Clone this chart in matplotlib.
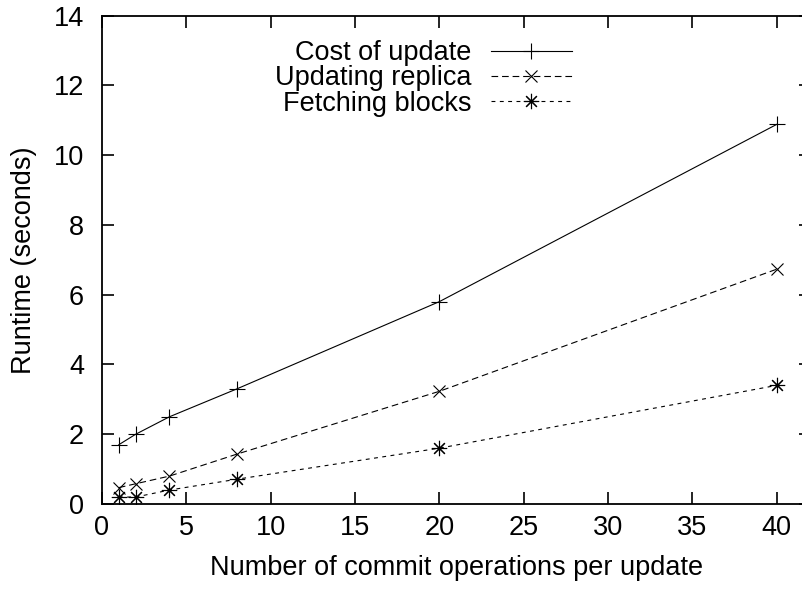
import matplotlib
matplotlib.use('Agg')
from matplotlib import pyplot as plt

plt.rcParams['font.family'] = ['Liberation Sans', 'DejaVu Sans']
plt.rcParams['font.size'] = 19.5

# commit operations per update
ops = [1, 2, 4, 8, 20, 40]

# runtimes in seconds
cost_of_update = [1.7, 2.0, 2.5, 3.3, 5.8, 10.88]
updating_replica = [0.47, 0.58, 0.8, 1.43, 3.23, 6.73]
fetching_blocks = [0.2, 0.2, 0.4, 0.71, 1.6, 3.4]

labels = ['Cost of update', 'Updating replica', 'Fetching blocks']

fig = plt.figure(figsize=(8.02, 5.90), dpi=100)
ax = fig.add_axes([102 / 802, 86 / 590, 708.5 / 802, 488.5 / 590])

ax.plot(ops, cost_of_update, color='black', lw=0.8, marker='+',
        markersize=11, markeredgewidth=0.8, label=labels[0])
ax.plot(ops, updating_replica, color='black', lw=0.8, marker='x',
        markersize=9, markeredgewidth=0.8, dashes=(6, 3.5), label=labels[1])
ax.plot(ops, fetching_blocks, color='black', lw=0.8, marker=(8, 2, 0),
        markersize=11, markeredgewidth=0.8, dashes=(3.5, 4), label=labels[2])

ax.set_xlim(0, 42)
ax.set_ylim(0, 14)
ax.set_xticks(range(0, 41, 5))
ax.set_yticks(range(0, 15, 2))

for s in ax.spines.values():
    s.set_linewidth(1.3)
ax.tick_params(direction='in', length=8.5, width=1.2, top=True, right=True)
ax.tick_params(axis='y', pad=13)
ax.tick_params(axis='x', pad=8)

ax.set_xlabel('Number of commit operations per update', labelpad=10)
ax.set_ylabel('Runtime (seconds)', labelpad=12)

# text on the left, sample on the right; rows are right-aligned by the legend
ax.legend(loc='upper right', bbox_to_anchor=(572 / 802, 550 / 590),
          bbox_transform=fig.transFigure, frameon=False, markerfirst=False,
          numpoints=1, handlelength=3.0, handletextpad=0.7,
          labelspacing=-0.02, borderpad=0, borderaxespad=0)

fig.savefig('out.png', dpi=100)
